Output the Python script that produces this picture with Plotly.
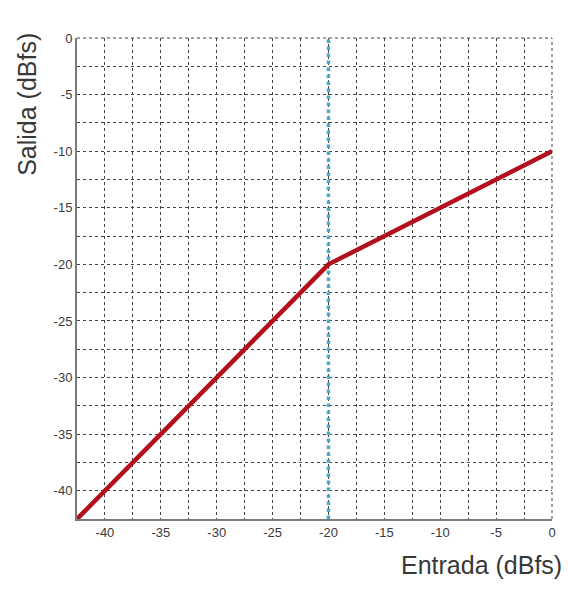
import plotly.graph_objects as go

# Compressor transfer curve: input level vs output level (dBfs)
entrada = [-42.5, -20, 0]
salida = [-42.5, -20, -10]

# Threshold marker
umbral_x = [-20, -20]
umbral_y = [-42.5, 0]

tick_vals = [-40, -35, -30, -25, -20, -15, -10, -5, 0]
tick_text = [str(v) for v in tick_vals]

grid_color = "#444444"
label_font = dict(family="Liberation Sans, Arial", size=13, color="#3a3a3a")
title_font = dict(family="Liberation Sans, Arial", size=25, color="#383838")

fig = go.Figure()

fig.add_trace(go.Scatter(
    x=umbral_x, y=umbral_y, mode="lines",
    line=dict(color="#4aa8cf", width=3.5, dash="dot"),
    hoverinfo="skip", showlegend=False,
))
fig.add_trace(go.Scatter(
    x=entrada, y=salida, mode="lines",
    line=dict(color="#b3101c", width=4.5),
    showlegend=False,
))

axis_common = dict(
    range=[-42.5, 0],
    tickmode="array",
    tickvals=tick_vals,
    ticktext=tick_text,
    showgrid=True,
    gridcolor=grid_color,
    gridwidth=1,
    griddash="dot",
    minor=dict(dtick=2.5, tick0=0, showgrid=True, gridcolor=grid_color,
               gridwidth=1, griddash="dot"),
    showline=True,
    linecolor="#7a7a7a",
    linewidth=2,
    zeroline=False,
    ticks="",
    tickfont=label_font,
    fixedrange=True,
)

fig.update_xaxes(**axis_common)
fig.update_yaxes(**axis_common)

# Dotted top and right border of the plot box
fig.add_shape(type="line", xref="paper", yref="paper", x0=0, x1=1, y0=1, y1=1,
              line=dict(color=grid_color, width=1, dash="dot"), layer="below")
fig.add_shape(type="line", xref="paper", yref="paper", x0=1, x1=1, y0=0, y1=1,
              line=dict(color=grid_color, width=1, dash="dot"), layer="below")

fig.add_annotation(
    text="Entrada (dBfs)", xref="paper", yref="paper",
    x=1.026, y=0, xanchor="right", yanchor="middle", yshift=-46,
    showarrow=False, font=title_font,
)
fig.add_annotation(
    text="Salida (dBfs)", xref="paper", yref="paper",
    x=0, y=0.861, xanchor="center", yanchor="middle", xshift=-50,
    textangle=-90, showarrow=False, font=title_font,
)

fig.update_layout(
    width=568, height=597,
    margin=dict(l=77, r=13, t=38, b=78),
    paper_bgcolor="white",
    plot_bgcolor="white",
)

fig.write_html("out.html")
